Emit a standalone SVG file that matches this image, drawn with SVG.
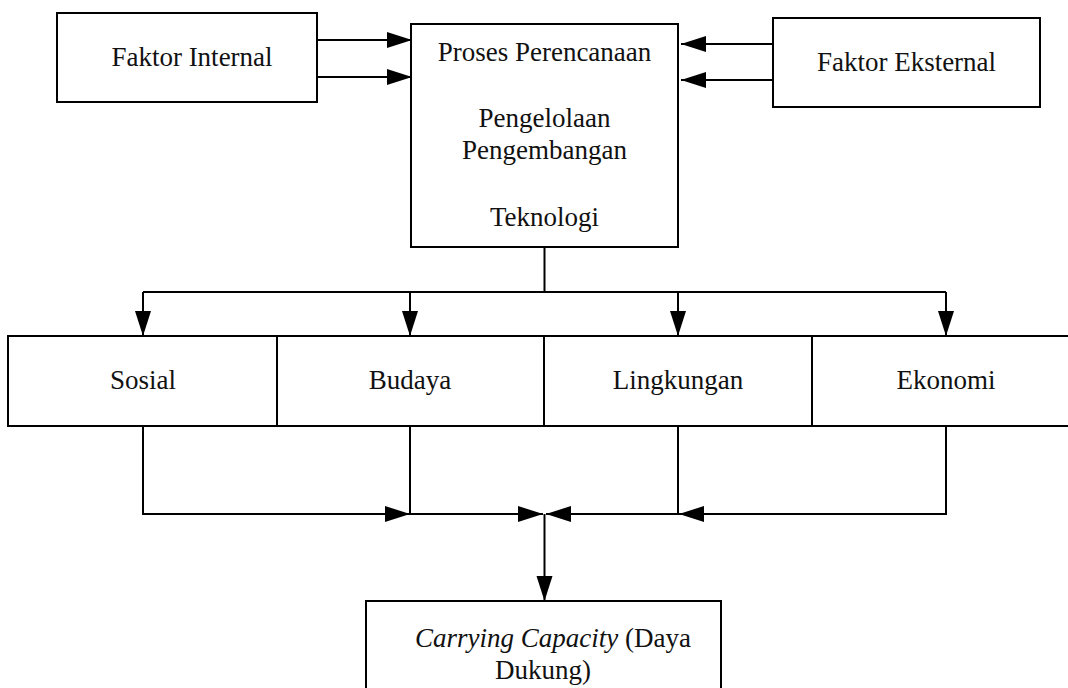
<svg xmlns="http://www.w3.org/2000/svg" width="1068" height="688" viewBox="0 0 1068 688">
  <style>
    .box { fill: #ffffff; stroke: #000000; stroke-width: 2; }
    .lbl { font-family: "Liberation Serif", "Times New Roman", serif; font-size: 27px; fill: #111111; text-anchor: middle; }
    .ln { fill: none; stroke: #000000; stroke-width: 2; }
    .arr { fill: none; stroke: #000000; stroke-width: 2; marker-end: url(#ah); }
  </style>
  <defs>
    <marker id="ah" markerUnits="userSpaceOnUse" markerWidth="26" markerHeight="18" refX="25" refY="8" orient="auto">
      <path d="M0,0 L25,8 L0,16 z" fill="#000000"/>
    </marker>
  </defs>
  <rect width="1068" height="688" fill="#ffffff"/>

  <g id="faktor-internal">
    <rect class="box" x="57" y="13" width="260" height="89"/>
    <text class="lbl" x="192" y="66">Faktor Internal</text>
  </g>

  <g id="proses">
    <rect class="box" x="411" y="24" width="267" height="223"/>
    <text class="lbl" x="544.5" y="61">Proses Perencanaan</text>
    <text class="lbl" x="544.5" y="127">Pengelolaan</text>
    <text class="lbl" x="544.5" y="159">Pengembangan</text>
    <text class="lbl" x="544.5" y="226">Teknologi</text>
  </g>

  <g id="faktor-eksternal">
    <rect class="box" x="773" y="18" width="267" height="89"/>
    <text class="lbl" x="906.5" y="71">Faktor Eksternal</text>
  </g>

  <g id="sosial">
    <rect class="box" x="8" y="336" width="269" height="90"/>
    <text class="lbl" x="143" y="389">Sosial</text>
  </g>
  <g id="budaya">
    <rect class="box" x="277" y="336" width="267" height="90"/>
    <text class="lbl" x="410" y="389">Budaya</text>
  </g>
  <g id="lingkungan">
    <rect class="box" x="544" y="336" width="268" height="90"/>
    <text class="lbl" x="678" y="389">Lingkungan</text>
  </g>
  <g id="ekonomi">
    <rect class="box" x="812" y="336" width="270" height="90"/>
    <text class="lbl" x="946" y="389">Ekonomi</text>
  </g>

  <g id="carrying-capacity">
    <rect class="box" x="366" y="601" width="355" height="110"/>
    <text class="lbl" x="553" y="647"><tspan font-style="italic">Carrying Capacity</tspan> (Daya</text>
    <text class="lbl" x="543" y="679">Dukung)</text>
  </g>

  <g id="connectors">
    <path class="arr" d="M317,40 L412,40"/>
    <path class="arr" d="M317,77 L412,77"/>
    <path class="arr" d="M773,44 L681,44"/>
    <path class="arr" d="M773,80 L681,80"/>
    <path class="ln" d="M544.5,247 L544.5,292 M143,292 L946,292"/>
    <path class="arr" d="M143,292 L143,336"/>
    <path class="arr" d="M410,292 L410,336"/>
    <path class="arr" d="M678,292 L678,336"/>
    <path class="arr" d="M946,292 L946,336"/>
    <path class="arr" d="M143,426 L143,514 L410,514"/>
    <path class="arr" d="M410,426 L410,514 L543,514"/>
    <path class="arr" d="M678,426 L678,514 L546,514"/>
    <path class="arr" d="M946,426 L946,514 L679,514"/>
    <path class="arr" d="M544.5,514 L544.5,601"/>
  </g>
</svg>
